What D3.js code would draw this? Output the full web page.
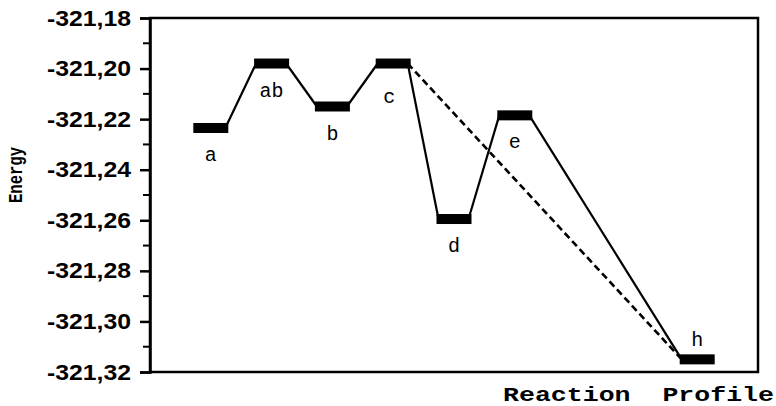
<!DOCTYPE html>
<html>
<head>
<meta charset="utf-8">
<script src="https://cdn.jsdelivr.net/npm/d3@7/dist/d3.min.js"></script>
<style>
  body { margin: 0; background: #fff; }
  svg { display: block; }
</style>
</head>
<body>
<script>
// states along the reaction path and their energies
var states = ['a', 'ab', 'b', 'c', 'd', 'e', 'h']
var steps = [0, 1, 2, 3, 4, 5, 8]   // slot on the reaction axis
var energy = [-321.2235, -321.198, -321.215, -321.198, -321.2595, -321.2185, -321.315]
var labelSide = ['below', 'below', 'below', 'below', 'below', 'below', 'above']
var solidPath = ['a', 'ab', 'b', 'c', 'd', 'e', 'h']
var dashedPath = ['c', 'h']
var yTicks = [-321.18, -321.20, -321.22, -321.24, -321.26, -321.28, -321.30, -321.32]

var W = 776, H = 406
// note: "top" is taken by window.top, so use prefixed names
var pLeft = 150, pRight = 758, pTop = 18, pBottom = 372
var barW = 35, barH = 10

var svg = d3.select(document.body).append('svg')
  .attr('width', W)
  .attr('height', H)

var x = d3.scaleLinear().domain([-1, 9]).range([pLeft, pRight])
var y = d3.scaleLinear().domain([-321.32, -321.18]).range([pBottom, pTop])

var pts = states.map(function(s, i) {
  return { name: s, step: steps[i], e: energy[i], side: labelSide[i] }
})
var byName = {}
pts.forEach(function(p) { byName[p.name] = p })

// frame
svg.append('rect')
  .attr('x', pLeft).attr('y', pTop)
  .attr('width', pRight - pLeft).attr('height', pBottom - pTop)
  .attr('fill', 'none').attr('stroke', '#000').attr('stroke-width', 2.5)

// y axis with major ticks
var yAxis = d3.axisLeft(y)
  .tickValues(yTicks)
  .tickSize(10)
  .tickPadding(9)
  .tickFormat(function(d) { return d3.format('.2f')(d).replace('.', ',').replace('−', '-') })

var gy = svg.append('g')
  .attr('transform', 'translate(' + pLeft + ',0)')
  .call(yAxis)
gy.select('.domain').attr('stroke-width', 2.5)
gy.selectAll('.tick line').attr('stroke-width', 2.5)
gy.selectAll('.tick text')
  .attr('font-family', '"Liberation Sans", Arial, sans-serif')
  .attr('font-weight', 'bold')
  .attr('font-size', 22)
  .attr('fill', '#000')
  .attr('textLength', 84)
  .attr('lengthAdjust', 'spacingAndGlyphs')

// minor ticks halfway
var minor = yTicks.slice(0, -1).map(function(d) { return d - 0.01 })
svg.append('g').selectAll('line').data(minor).enter().append('line')
  .attr('x1', pLeft - 7).attr('x2', pLeft)
  .attr('y1', function(d) { return y(d) })
  .attr('y2', function(d) { return y(d) })
  .attr('stroke', '#000').attr('stroke-width', 2)

// connecting lines: right end of one level to left end of the next
function segs(path) {
  var out = []
  for (var i = 0; i < path.length - 1; i++) {
    var p = byName[path[i]], q = byName[path[i + 1]]
    out.push({ x1: x(p.step) + barW / 2 - 3, y1: y(p.e), x2: x(q.step) - barW / 2 + 2, y2: y(q.e) })
  }
  return out
}

svg.append('g').selectAll('line').data(segs(solidPath)).enter().append('line')
  .attr('x1', function(d) { return d.x1 })
  .attr('y1', function(d) { return d.y1 })
  .attr('x2', function(d) { return d.x2 })
  .attr('y2', function(d) { return d.y2 })
  .attr('stroke', '#000').attr('stroke-width', 2.2)

svg.append('g').selectAll('line').data(segs(dashedPath)).enter().append('line')
  .attr('x1', function(d) { return d.x1 })
  .attr('y1', function(d) { return d.y1 })
  .attr('x2', function(d) { return d.x2 })
  .attr('y2', function(d) { return d.y2 })
  .attr('stroke', '#000').attr('stroke-width', 2.6)
  .attr('stroke-dasharray', '7,4')

// energy levels
svg.append('g').selectAll('rect').data(pts).enter().append('rect')
  .attr('x', function(d) { return x(d.step) - barW / 2 })
  .attr('y', function(d) { return y(d.e) - barH / 2 })
  .attr('width', barW)
  .attr('height', barH)
  .attr('fill', '#000')

svg.append('g').selectAll('text').data(pts).enter().append('text')
  .attr('x', function(d) { return x(d.step) + (d.name == 'c' ? -4 : 0) })
  .attr('y', function(d) {
    if (d.side == 'above') return y(d.e) - 13
    return y(d.e) + (d.name == 'c' ? 39 : 33)
  })
  .attr('text-anchor', 'middle')
  .attr('font-family', '"Liberation Mono", "Courier New", monospace')
  .attr('font-size', 20)
  .attr('fill', '#000')
  .text(function(d) { return d.name })

// axis titles
svg.append('text')
  .attr('transform', 'translate(22,175) rotate(-90)')
  .attr('text-anchor', 'middle')
  .attr('font-family', '"Liberation Mono", "Courier New", monospace')
  .attr('font-weight', 'bold')
  .attr('font-size', 20)
  .attr('textLength', 56)
  .attr('lengthAdjust', 'spacingAndGlyphs')
  .text('Energy')

svg.append('text')
  .attr('x', 503)
  .attr('y', 401)
  .attr('font-family', '"Liberation Mono", "Courier New", monospace')
  .attr('font-weight', 'bold')
  .attr('font-size', 21)
  .attr('textLength', 271)
  .attr('lengthAdjust', 'spacingAndGlyphs')
  .attr('xml:space', 'preserve')
  .text('Reaction  Profile')
</script>
</body>
</html>
